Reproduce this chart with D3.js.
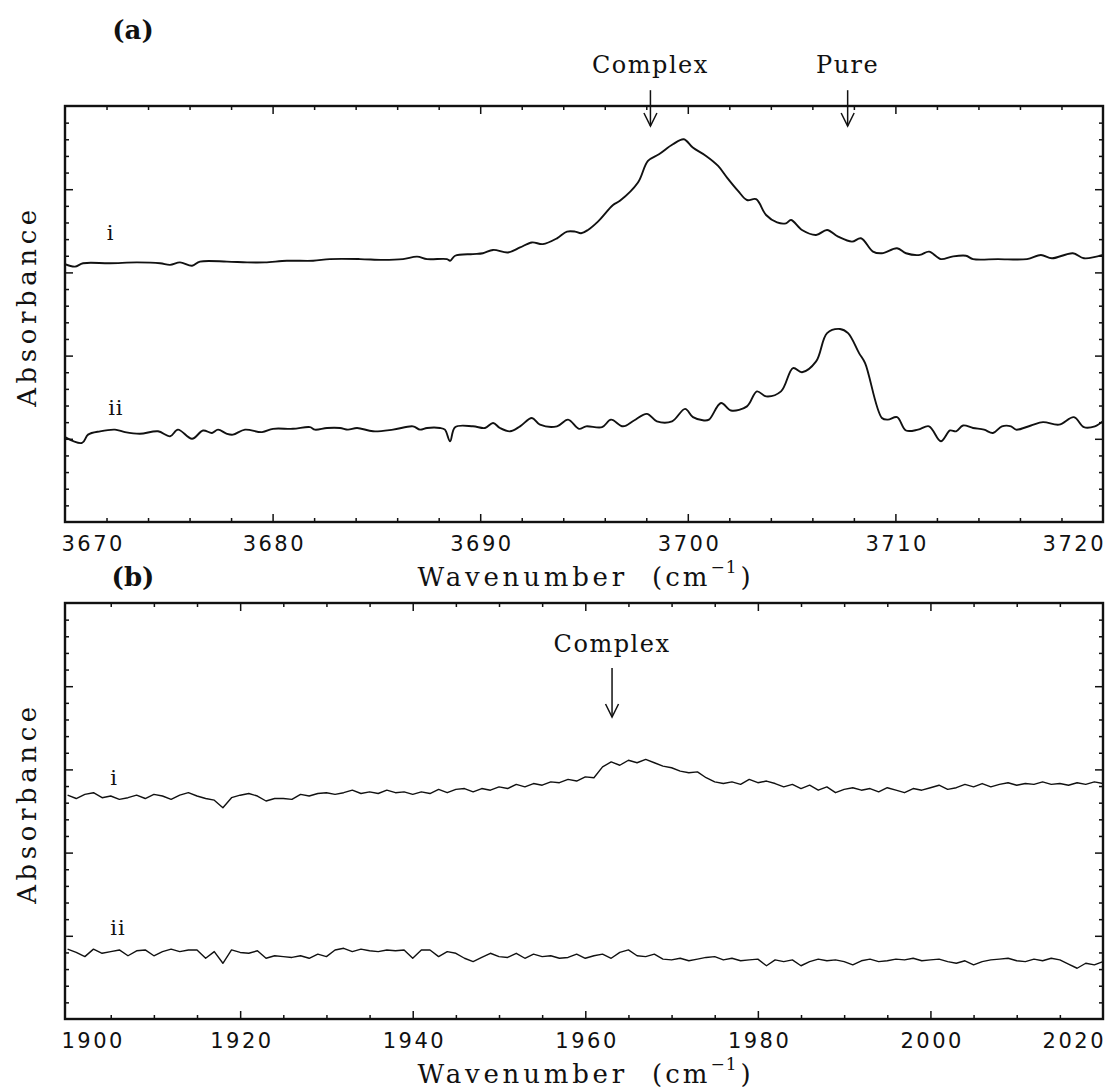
<!DOCTYPE html>
<html>
<head>
<meta charset="utf-8">
<script src="https://cdn.jsdelivr.net/npm/d3@7"></script>
<style>
  body { margin: 0; background: #fff; }
  svg { display: block; }
</style>
</head>
<body>
<svg id="chart" width="1113" height="1092"></svg>
<script>
// ---- (a) O–H stretch region: spectrum i (complex) and ii (pure) ----
const wnA_i = [3670.00,3670.48,3670.87,3672.17,3673.47,3674.58,3675.06,3675.54,3676.12,3676.50,
  3677.80,3678.77,3679.63,3680.69,3681.95,3682.76,3684.21,3685.32,3686.28,3686.96,
  3687.44,3688.40,3688.55,3688.79,3689.65,3690.13,3690.62,3691.34,3691.92,3692.49,
  3693.02,3693.70,3694.18,3694.57,3694.86,3695.19,3695.67,3696.40,3696.73,3697.60,
  3698.08,3698.61,3699.28,3699.81,3700.24,3700.88,3701.46,3701.89,3702.42,3702.85,
  3703.29,3703.77,3704.30,3704.73,3704.97,3705.50,3706.18,3706.71,3707.24,3707.91,
  3708.34,3708.92,3709.35,3710.08,3710.51,3711.18,3711.62,3712.19,3712.73,3713.40,
  3713.74,3714.94,3716.34,3717.01,3717.54,3718.55,3719.08,3720.00];
const absA_i = [3.10,3.07,3.11,3.11,3.12,3.11,3.09,3.12,3.08,3.13,
  3.13,3.12,3.12,3.14,3.14,3.16,3.16,3.15,3.16,3.19,
  3.16,3.16,3.14,3.20,3.22,3.23,3.27,3.24,3.30,3.36,
  3.34,3.41,3.49,3.49,3.47,3.51,3.61,3.81,3.86,4.08,
  4.34,4.42,4.54,4.60,4.50,4.40,4.28,4.14,3.98,3.87,
  3.88,3.69,3.60,3.59,3.63,3.51,3.45,3.51,3.43,3.37,
  3.41,3.25,3.23,3.29,3.23,3.21,3.25,3.16,3.19,3.20,
  3.16,3.16,3.16,3.21,3.17,3.23,3.17,3.21];

const wnA_ii = [3670.00,3670.82,3671.11,3671.69,3672.41,3672.89,3673.61,3674.48,3675.06,3675.44,
  3676.12,3676.65,3677.08,3677.37,3677.80,3678.09,3678.67,3679.49,3680.02,3680.98,
  3681.80,3682.04,3682.62,3683.25,3683.63,3684.07,3684.84,3685.80,3686.76,3687.10,
  3687.44,3688.06,3688.30,3688.55,3688.79,3689.65,3690.23,3690.62,3690.95,3691.44,
  3691.92,3692.49,3692.88,3693.70,3694.23,3694.76,3695.10,3695.87,3696.30,3696.88,
  3697.41,3698.03,3698.51,3699.24,3699.87,3700.25,3700.78,3701.02,3701.60,3702.08,
  3702.85,3703.33,3703.77,3704.49,3705.07,3705.50,3706.18,3706.71,3707.33,3707.72,
  3708.25,3708.54,3709.35,3709.64,3710.08,3710.51,3711.09,3711.62,3712.19,3712.63,
  3712.92,3713.26,3713.74,3714.27,3714.70,3715.13,3715.57,3715.81,3716.53,3717.11,
  3717.88,3718.60,3719.08,3719.61,3720.00];
const absA_ii = [1.02,0.95,1.05,1.09,1.11,1.08,1.06,1.09,1.03,1.11,
  1.00,1.10,1.07,1.11,1.06,1.05,1.11,1.08,1.12,1.12,
  1.14,1.11,1.13,1.13,1.11,1.13,1.09,1.11,1.15,1.11,
  1.13,1.13,1.11,0.97,1.14,1.15,1.13,1.19,1.13,1.09,
  1.15,1.25,1.17,1.15,1.23,1.12,1.15,1.14,1.23,1.15,
  1.22,1.30,1.21,1.21,1.36,1.26,1.22,1.23,1.43,1.34,
  1.39,1.57,1.51,1.57,1.85,1.80,1.93,2.27,2.32,2.27,
  2.03,1.91,1.25,1.23,1.26,1.10,1.11,1.15,0.97,1.10,
  1.09,1.16,1.13,1.11,1.07,1.15,1.15,1.11,1.16,1.20,
  1.17,1.26,1.14,1.15,1.21];

// ---- (b) 1900–2020 cm-1 region, sampled every 1 cm-1 ----
const wnB = d3.range(1900, 2021);
const absB_i = [2.69,2.65,2.70,2.72,2.66,2.68,2.64,2.66,2.69,2.65,
  2.70,2.68,2.64,2.69,2.72,2.68,2.65,2.63,2.54,2.66,
  2.69,2.71,2.68,2.62,2.65,2.65,2.64,2.70,2.68,2.71,
  2.72,2.70,2.72,2.75,2.71,2.73,2.71,2.75,2.72,2.73,
  2.70,2.73,2.71,2.76,2.72,2.76,2.77,2.73,2.77,2.75,
  2.79,2.77,2.82,2.79,2.83,2.81,2.85,2.84,2.88,2.86,
  2.91,2.90,3.03,3.09,3.05,3.11,3.08,3.12,3.08,3.04,
  3.02,2.98,2.96,2.97,2.90,2.85,2.83,2.85,2.82,2.88,
  2.84,2.86,2.83,2.79,2.82,2.77,2.81,2.75,2.79,2.72,
  2.76,2.78,2.75,2.77,2.73,2.78,2.75,2.72,2.77,2.75,
  2.78,2.81,2.76,2.78,2.82,2.79,2.83,2.79,2.82,2.84,
  2.81,2.83,2.82,2.85,2.82,2.83,2.81,2.84,2.82,2.85,
  2.83];
const absB_ii = [0.84,0.80,0.75,0.84,0.79,0.81,0.83,0.76,0.82,0.83,
  0.76,0.81,0.84,0.81,0.83,0.83,0.73,0.81,0.67,0.83,
  0.80,0.79,0.82,0.73,0.76,0.75,0.74,0.76,0.73,0.78,
  0.75,0.83,0.85,0.81,0.84,0.82,0.81,0.83,0.82,0.83,
  0.73,0.83,0.83,0.75,0.81,0.79,0.73,0.69,0.74,0.79,
  0.75,0.74,0.79,0.73,0.78,0.75,0.76,0.73,0.74,0.78,
  0.73,0.76,0.78,0.73,0.80,0.83,0.76,0.75,0.78,0.72,
  0.71,0.73,0.70,0.72,0.74,0.75,0.71,0.73,0.70,0.71,
  0.72,0.64,0.71,0.69,0.71,0.64,0.69,0.72,0.70,0.71,
  0.69,0.65,0.70,0.72,0.69,0.70,0.72,0.71,0.73,0.70,
  0.71,0.72,0.69,0.67,0.70,0.65,0.69,0.71,0.72,0.73,
  0.70,0.69,0.72,0.70,0.73,0.71,0.66,0.61,0.67,0.65,
  0.69];

// axis tick labels
const ticksA = [3670, 3680, 3690, 3700, 3710, 3720];
const ticksB = [1900, 1920, 1940, 1960, 1980, 2000, 2020];

// peak markers and trace labels
const arrowsA = [{ text: "Complex", wn: 3698.2 }, { text: "Pure", wn: 3707.7 }];
const arrowsB = [{ text: "Complex", wn: 1963.1 }];
const traceLabelsA = [{ text: "i", wn: 3672.2, abs: 3.39 }, { text: "ii", wn: 3672.45, abs: 1.29 }];
const traceLabelsB = [{ text: "i", wn: 1905.4, abs: 2.81 }, { text: "ii", wn: 1905.85, abs: 1.01 }];

const ink = "#111";
const serif = "'DejaVu Serif', serif";
const sans = "'DejaVu Sans', sans-serif";
const plotL = 65, plotR = 1103;
const svg = d3.select("#chart");

const panels = [
  { tag: "(a)", tagY: 39, top: 106, bottom: 522, xDomain: [3670, 3720], xMinorStep: 2, xMajor: ticksA,
    series: [[wnA_i, absA_i], [wnA_ii, absA_ii]], curve: d3.curveCatmullRom.alpha(0.5), strokeW: 1.9,
    arrows: arrowsA, arrowTop: 5.19, arrowBottom: 4.76, arrowText: 5.40, labels: traceLabelsA },
  { tag: "(b)", tagY: 586, top: 603, bottom: 1019, xDomain: [1899.7, 2020], xMinorStep: 5, xMajor: ticksB,
    series: [[wnB, absB_i], [wnB, absB_ii]], curve: d3.curveLinear, strokeW: 1.4,
    arrows: arrowsB, arrowTop: 4.22, arrowBottom: 3.63, arrowText: 4.41, labels: traceLabelsB }
];

panels.forEach(p => {
  const x = d3.scaleLinear().domain(p.xDomain).range([plotL, plotR]);
  const y = d3.scaleLinear().domain([0, 5]).range([p.bottom, p.top]);
  const g = svg.append("g");

  // inward tick marks on all four sides
  const inside = v => x(v) > plotL + 3 && x(v) < plotR - 3;
  const xMinor = d3.range(Math.ceil(p.xDomain[0] / p.xMinorStep) * p.xMinorStep, p.xDomain[1] + 1e-9, p.xMinorStep)
    .filter(v => inside(v) && !p.xMajor.includes(v));
  const xMajor = p.xMajor.filter(inside);
  const yMinor = d3.range(1, 25).map(i => i / 5).filter(v => Math.abs(v - Math.round(v)) > 1e-6);
  const yMajor = [1, 2, 3, 4];

  function ticks(axis, scale, vals, len, tr) {
    g.append("g").attr("transform", tr)
      .call(axis(scale).tickValues(vals).tickSize(-len).tickFormat(""))
      .call(s => {
        s.select(".domain").remove();
        s.selectAll("line").attr("stroke", ink).attr("stroke-width", 1.5);
      });
  }
  ticks(d3.axisBottom, x, xMinor, 4, `translate(0,${p.bottom})`);
  ticks(d3.axisBottom, x, xMajor, 8, `translate(0,${p.bottom})`);
  ticks(d3.axisTop, x, xMinor, 4, `translate(0,${p.top})`);
  ticks(d3.axisTop, x, xMajor, 8, `translate(0,${p.top})`);
  ticks(d3.axisLeft, y, yMinor, 4, `translate(${plotL},0)`);
  ticks(d3.axisLeft, y, yMajor, 8, `translate(${plotL},0)`);
  ticks(d3.axisRight, y, yMinor, 4, `translate(${plotR},0)`);
  ticks(d3.axisRight, y, yMajor, 8, `translate(${plotR},0)`);

  // frame
  g.append("rect")
    .attr("x", plotL).attr("y", p.top)
    .attr("width", plotR - plotL).attr("height", p.bottom - p.top)
    .attr("fill", "none").attr("stroke", ink).attr("stroke-width", 2.4);

  // spectra
  const line = d3.line().x(d => x(d[0])).y(d => y(d[1])).curve(p.curve);
  p.series.forEach(([wn, ab]) => {
    g.append("path")
      .datum(wn.map((w, i) => [w, ab[i]]))
      .attr("d", line)
      .attr("fill", "none").attr("stroke", ink)
      .attr("stroke-width", p.strokeW).attr("stroke-linejoin", "round");
  });

  // tick labels along the bottom
  const ls = 2.5;
  const lab = g.append("g").attr("transform", `translate(0,${p.bottom})`)
    .call(d3.axisBottom(x).tickValues(p.xMajor).tickSize(0).tickFormat(d3.format("d")));
  lab.select(".domain").remove();
  const texts = lab.selectAll("text")
    .attr("y", 29).attr("dy", 0).attr("x", ls / 2)
    .attr("font-family", sans).attr("font-size", 21)
    .attr("letter-spacing", ls).attr("fill", ink);
  const n = p.xMajor.length;
  texts.filter((d, i) => i === 0).attr("text-anchor", "start").attr("x", d => plotL - 4 - x(d));
  texts.filter((d, i) => i === n - 1).attr("text-anchor", "end").attr("x", d => plotR + ls - x(d));

  // axis titles
  const xt = g.append("text")
    .attr("x", (plotL + plotR) / 2).attr("y", p.bottom + 64)
    .attr("text-anchor", "middle").attr("font-family", serif)
    .attr("font-size", 26).attr("fill", ink);
  xt.append("tspan").attr("letter-spacing", 3.8).text("Wavenumber");
  xt.append("tspan").attr("dx", 24).attr("letter-spacing", 3).text("(cm");
  xt.append("tspan").attr("dy", -13).attr("font-size", 17).attr("letter-spacing", 1).text("\u22121");
  xt.append("tspan").attr("dy", 13).attr("dx", 3).attr("letter-spacing", 0).text(")");

  g.append("text")
    .attr("transform", `translate(36,${(p.top + p.bottom) / 2 - 8}) rotate(-90)`)
    .attr("text-anchor", "middle").attr("font-family", serif)
    .attr("font-size", 26).attr("letter-spacing", 4.6).attr("fill", ink)
    .text("Absorbance");

  // panel tag
  g.append("text")
    .attr("x", 133).attr("y", p.tagY).attr("text-anchor", "middle")
    .attr("font-family", serif).attr("font-weight", "bold")
    .attr("font-size", 26).attr("fill", ink).text(p.tag);

  // trace labels
  p.labels.forEach(l => {
    g.append("text")
      .attr("x", x(l.wn)).attr("y", y(l.abs)).attr("text-anchor", "middle")
      .attr("font-family", serif).attr("font-size", 21).attr("letter-spacing", 1)
      .attr("fill", ink).text(l.text);
  });

  // peak markers: label with a downward open arrow
  p.arrows.forEach(a => {
    const ax = x(a.wn), y0 = y(p.arrowTop), y1 = y(p.arrowBottom);
    g.append("text")
      .attr("x", ax).attr("y", y(p.arrowText)).attr("text-anchor", "middle")
      .attr("font-family", serif).attr("font-size", 24).attr("letter-spacing", 1.5)
      .attr("fill", ink).text(a.text);
    g.append("line")
      .attr("x1", ax).attr("x2", ax).attr("y1", y0).attr("y2", y1)
      .attr("stroke", ink).attr("stroke-width", 1.5);
    g.append("path")
      .attr("d", `M${ax - 6.5},${y1 - 13} L${ax},${y1} L${ax + 6.5},${y1 - 13}`)
      .attr("fill", "none").attr("stroke", ink).attr("stroke-width", 1.5);
  });
});
</script>
</body>
</html>
